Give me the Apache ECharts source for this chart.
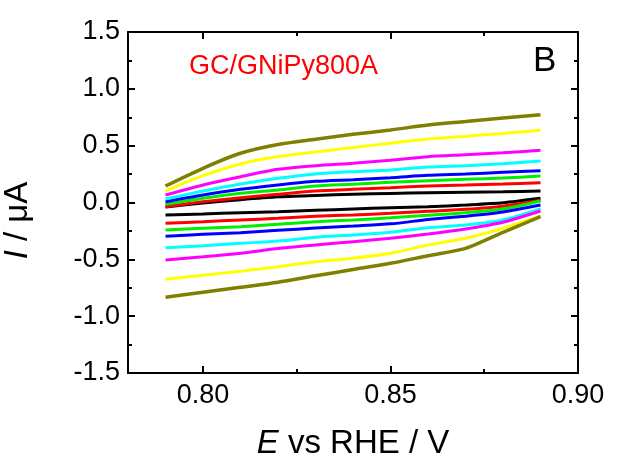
<!DOCTYPE html>
<html>
<head>
<meta charset="utf-8">
<script src="https://cdn.jsdelivr.net/npm/echarts@6/dist/echarts.min.js"></script>
<style>html,body{margin:0;padding:0;background:#fff}#c{width:621px;height:461px}</style>
</head>
<body>
<div id="c"></div>
<script>
// Potential (V vs RHE)
var E = [0.79, 0.80, 0.81, 0.82, 0.83, 0.84, 0.85, 0.86, 0.87, 0.88, 0.89];
// Anodic (upper) branches, current in µA
var blackUp   = [-0.040, -0.005, 0.025, 0.050, 0.062, 0.072, 0.080, 0.085, 0.090, 0.095, 0.101];
var redUp     = [-0.037, 0.007, 0.042, 0.072, 0.101, 0.116, 0.130, 0.145, 0.154, 0.163, 0.174];
var greenUp   = [-0.016, 0.037, 0.081, 0.110, 0.145, 0.160, 0.178, 0.192, 0.204, 0.215, 0.233];
var blueUp    = [0.007, 0.066, 0.116, 0.154, 0.186, 0.201, 0.218, 0.239, 0.251, 0.266, 0.280];
var cyanUp    = [0.031, 0.101, 0.163, 0.213, 0.251, 0.271, 0.286, 0.312, 0.324, 0.341, 0.365];
var magentaUp = [0.066, 0.154, 0.227, 0.292, 0.324, 0.345, 0.371, 0.403, 0.420, 0.438, 0.459];
var yellowUp  = [0.101, 0.236, 0.339, 0.405, 0.444, 0.483, 0.522, 0.558, 0.583, 0.608, 0.635];
var oliveUp   = [0.145, 0.301, 0.433, 0.510, 0.556, 0.600, 0.638, 0.682, 0.712, 0.743, 0.772];
// Cathodic (lower) branches
var blackDn   = [-0.110, -0.101, -0.090, -0.081, -0.069, -0.057, -0.046, -0.038, -0.022, -0.002, 0.037];
var redDn     = [-0.183, -0.169, -0.154, -0.139, -0.121, -0.110, -0.095, -0.077, -0.060, -0.033, 0.019];
var greenDn   = [-0.242, -0.227, -0.213, -0.192, -0.169, -0.154, -0.135, -0.112, -0.090, -0.057, 0.013];
var blueDn    = [-0.297, -0.280, -0.266, -0.245, -0.225, -0.207, -0.188, -0.150, -0.120, -0.083, -0.022];
var cyanDn    = [-0.398, -0.380, -0.359, -0.339, -0.306, -0.286, -0.262, -0.222, -0.198, -0.154, -0.057];
var magentaDn = [-0.506, -0.478, -0.446, -0.405, -0.374, -0.345, -0.315, -0.277, -0.233, -0.174, -0.075];
var yellowDn  = [-0.675, -0.640, -0.605, -0.565, -0.521, -0.491, -0.447, -0.374, -0.315, -0.227, -0.116];
var oliveDn   = [-0.834, -0.790, -0.746, -0.702, -0.645, -0.590, -0.535, -0.468, -0.403, -0.262, -0.125];

var xMajor = [0.80, 0.85, 0.90];
var xMinor = [0.825, 0.875];
var sampleLabel = 'GC/GNiPy800A';
var panelLabel = 'B';

var curves = [
  ['#000000', blackUp, blackDn],
  ['#ff0000', redUp, redDn],
  ['#00ee00', greenUp, greenDn],
  ['#0000ff', blueUp, blueDn],
  ['#00ffff', cyanUp, cyanDn],
  ['#ff00ff', magentaUp, magentaDn],
  ['#ffff00', yellowUp, yellowDn],
  ['#808000', oliveUp, oliveDn]
];

function pairs(ys) { return E.map(function (x, i) { return [x, ys[i]]; }); }

var series = [];
curves.forEach(function (c) {
  [c[1], c[2]].forEach(function (ys) {
    series.push({
      type: 'line', xAxisIndex: 0, yAxisIndex: 0,
      data: pairs(ys), symbol: 'none', smooth: 0.25,
      lineStyle: { color: c[0], width: c[0] === '#808000' ? 3.5 : 3 },
      silent: true
    });
  });
});

var FONT = 'Liberation Sans, Arial, sans-serif';

function xAx(pos, ticks, len, labels, showLine) {
  return {
    type: 'value', position: pos, min: 0.78, max: 0.90,
    axisLine: { show: showLine, onZero: false, lineStyle: { color: '#000', width: 2 } },
    axisTick: { show: true, inside: true, length: len, customValues: ticks, lineStyle: { color: '#000', width: 2 } },
    axisLabel: labels ? { show: true, customValues: xMajor, formatter: function (v) { return v.toFixed(2); },
      fontSize: 27, color: '#000', fontFamily: FONT, margin: 9 } : { show: false },
    splitLine: { show: false }
  };
}

function yAx(pos, labels) {
  return {
    type: 'value', position: pos, min: -1.5, max: 1.5, interval: 0.5,
    axisLine: { show: true, onZero: false, lineStyle: { color: '#000', width: 2 } },
    axisTick: { show: true, inside: true, length: 7, lineStyle: { color: '#000', width: 2 } },
    minorTick: { show: true, splitNumber: 2, length: 4, lineStyle: { color: '#000', width: 2 } },
    axisLabel: labels ? { fontSize: 27, color: '#000', fontFamily: FONT, margin: 8,
      formatter: function (v) { return v.toFixed(1); } } : { show: false },
    splitLine: { show: false }
  };
}

var yLeft = yAx('left', true);
yLeft.name = '{i|I} / μA';
yLeft.nameLocation = 'middle';
yLeft.nameGap = 94;
yLeft.nameRotate = 90;
yLeft.nameTextStyle = { fontSize: 33, color: '#000', fontFamily: FONT, padding: [0, 36, 0, 0],
  rich: { i: { fontSize: 33, fontStyle: 'italic', fontFamily: FONT, color: '#000' } } };

var xBottom = xAx('bottom', xMajor, 7, true, true);
xBottom.name = '{i|E} vs RHE / V';
xBottom.nameLocation = 'middle';
xBottom.nameGap = 54;
xBottom.nameTextStyle = { fontSize: 33, color: '#000', fontFamily: FONT,
  rich: { i: { fontSize: 33, fontStyle: 'italic', fontFamily: FONT, color: '#000' } } };

var option = {
  animation: false,
  backgroundColor: '#fff',
  grid: { left: 128, right: 43, top: 32, bottom: 88, containLabel: false, outerBoundsMode: 'none' },
  xAxis: [
    xBottom,
    xAx('bottom', xMinor, 4, false, false),
    xAx('top', xMajor, 7, false, true),
    xAx('top', xMinor, 4, false, false)
  ],
  yAxis: [yLeft, yAx('right', false)],
  graphic: [
    { type: 'text', left: 189, top: 53,
      style: { text: sampleLabel, fill: '#ff0000', font: '27px ' + FONT } },
    { type: 'text', left: 533, top: 44,
      style: { text: panelLabel, fill: '#000', font: '35px ' + FONT } }
  ],
  series: series
};

var chart = echarts.init(document.getElementById('c'), null, { renderer: 'canvas' });
chart.setOption(option);
</script>
</body>
</html>
